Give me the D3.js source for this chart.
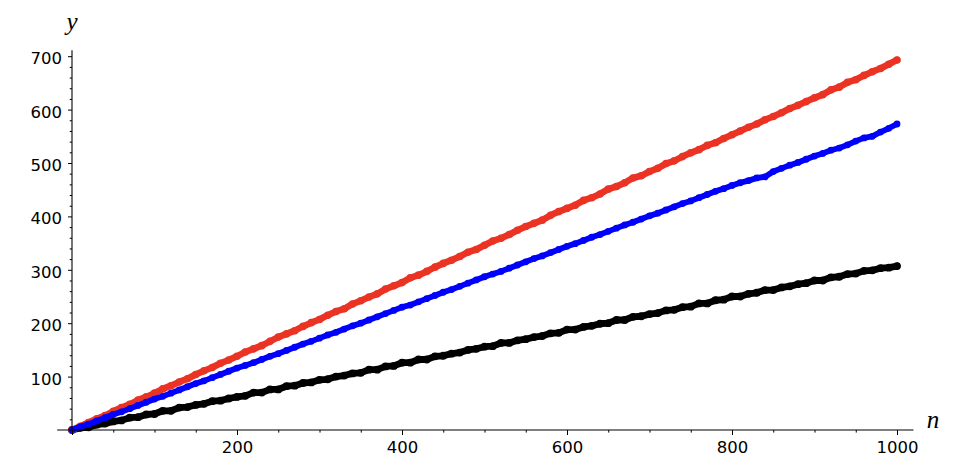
<!DOCTYPE html>
<html><head><meta charset="utf-8">
<script src="https://cdn.jsdelivr.net/npm/d3@7"></script>
<style>body{margin:0;background:#fff;} svg{display:block;}</style>
</head><body>
<svg id="chart" width="958" height="474"></svg>
<script>
// sample positions n = 0,10,...,1000
const nValues = d3.range(0, 1001, 10);
const redValues = [0,7,14,21,27,35,42,48,56,62,69,77,83,90,96,104,111,117,125,131,138,146,152,158,166,174,180,186,194,201,207,215,222,227,236,242,249,255,264,270,276,285,290,297,305,312,318,325,333,338,346,354,359,366,374,381,387,393,402,409,415,421,430,435,442,451,456,463,472,476,484,490,499,504,512,519,525,533,538,546,553,560,567,573,581,587,594,602,608,615,622,628,637,642,651,656,664,671,677,685,693];
const blueValues = [0,6,11,17,23,29,34,40,46,52,58,63,69,75,81,87,92,98,104,110,116,121,126,132,138,143,149,155,161,166,172,178,183,189,195,200,206,212,218,224,230,234,240,246,252,258,263,269,275,281,287,292,297,303,309,315,321,326,332,338,344,349,355,361,366,372,378,384,389,395,401,406,412,418,424,429,435,441,447,452,458,463,467,472,474,484,490,496,501,507,513,518,524,528,534,541,547,550,558,565,573];
const blackValues = [0,4,5,10,12,16,18,23,24,29,30,36,36,42,43,47,49,54,55,59,62,64,70,70,76,76,82,83,88,89,94,95,100,102,106,107,113,113,119,120,126,126,132,132,138,139,143,145,150,152,156,157,163,163,168,170,174,176,181,182,188,188,193,195,199,200,206,206,212,213,217,219,224,225,230,231,237,237,243,244,250,250,255,257,262,262,267,269,273,275,280,280,286,287,292,293,298,299,303,304,307];
const xTicks = [200, 400, 600, 800, 1000];
const yTicks = [100, 200, 300, 400, 500, 600, 700];
const xLabel = "n", yLabel = "y";

const svg = d3.select("#chart");
const x = d3.scaleLinear().domain([0, 1000]).range([72, 897]);
const y = d3.scaleLinear().domain([0, 700]).range([430, 56.2]);

const series = [
  {vals: blackValues, color: "#000000", w: 6.8},
  {vals: redValues, color: "#eb3324", w: 6.6},
  {vals: blueValues, color: "#0000ff", w: 5.8}
];
const line = d3.line().x(d => x(d[0])).y(d => y(d[1])).curve(d3.curveLinear);
series.forEach(s => {
  const pts = nValues.map((n, i) => [n, s.vals[i]]);
  svg.append("path").datum(pts).attr("d", line)
    .attr("fill", "none").attr("stroke", s.color).attr("stroke-width", s.w)
    .attr("stroke-linejoin", "round").attr("stroke-linecap", "round");
  svg.append("g").selectAll("circle").data(pts).join("circle")
    .attr("cx", d => x(d[0])).attr("cy", d => y(d[1])).attr("r", s.w / 2 + 0.5)
    .attr("fill", s.color);
});

const font = "'DejaVu Sans', sans-serif";
const fs = 16.5;
// x axis
const xAxis = d3.axisBottom(x).tickValues(xTicks).tickSize(5).tickFormat(d3.format("d"));
const gx = svg.append("g").attr("transform", `translate(0,${y(0)})`).call(xAxis);
gx.select(".domain").remove();
gx.selectAll("text").attr("font-family", font).attr("font-size", fs).attr("fill", "#000").attr("dy", "0.9em");
const xMinor = d3.axisBottom(x).tickValues(d3.range(0, 1001, 50).filter(v => !xTicks.includes(v) && v !== 0)).tickSize(2.6).tickFormat("");
const gxm = svg.append("g").attr("transform", `translate(0,${y(0)})`).call(xMinor);
gxm.select(".domain").remove();
const x0tick = d3.axisBottom(x).tickValues([0]).tickSize(5).tickFormat("");
svg.append("g").attr("transform", `translate(0,${y(0)})`).call(x0tick).select(".domain").remove();
svg.append("line").attr("x1", x(-18)).attr("x2", x(1020)).attr("y1", y(0)).attr("y2", y(0))
  .attr("stroke", "#000").attr("stroke-width", 1.1);

// y axis
const yAxis = d3.axisLeft(y).tickValues(yTicks).tickSize(4).tickPadding(6).tickFormat(d3.format("d"));
const gy = svg.append("g").attr("transform", `translate(${x(0)},0)`).call(yAxis);
gy.select(".domain").remove();
gy.selectAll("text").attr("font-family", font).attr("font-size", fs).attr("fill", "#000").attr("dy", "0.45em");
const yMinor = d3.axisLeft(y).tickValues(d3.range(20, 711, 20).filter(v => v % 100 !== 0)).tickSize(2.3).tickFormat("");
svg.append("g").attr("transform", `translate(${x(0)},0)`).call(yMinor).select(".domain").remove();
svg.append("line").attr("x1", x(0)).attr("x2", x(0)).attr("y1", y(0)).attr("y2", y(711))
  .attr("stroke", "#000").attr("stroke-width", 1.1);

svg.selectAll(".tick line").attr("stroke", "#000");

// axis labels
svg.append("text").attr("x", x(0)).attr("y", 30).attr("text-anchor", "middle")
  .attr("font-family", "'Liberation Serif', 'DejaVu Serif', serif").attr("font-style", "italic")
  .attr("font-size", 25).text(yLabel);
svg.append("text").attr("x", 933).attr("y", 428).attr("text-anchor", "middle")
  .attr("font-family", "'Liberation Serif', 'DejaVu Serif', serif").attr("font-style", "italic")
  .attr("font-size", 25).text(xLabel);
</script>
</body></html>
